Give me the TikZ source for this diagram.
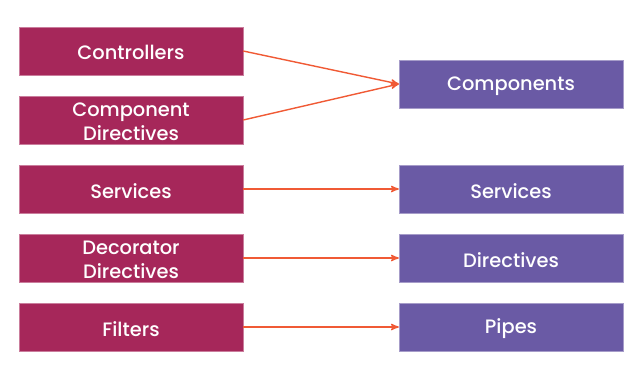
\documentclass[tikz,border=0pt]{standalone}
\usepackage{fontspec}
\setmainfont{Poppins}[BoldFont={Poppins Medium}]
\usetikzlibrary{arrows}

\definecolor{oldbox}{HTML}{A6275A}
\definecolor{newbox}{HTML}{6A5AA5}
\definecolor{maparrow}{HTML}{F05A35}

\begin{document}
\begin{tikzpicture}[>=stealth',
    oldstyle/.style = {rectangle,
          fill = oldbox,
          draw = oldbox!60!white,
          line width = 0.3pt,
          minimum width = 5.6cm,
          minimum height = 1.2cm},
    newstyle/.style = {oldstyle,
          fill = newbox,
          draw = newbox!60!white},
    boxtext/.style = {text = white,
          align = center,
          yshift = -1.3pt,
          font = \fontsize{13.8}{16.5}\selectfont\bfseries},
    mapto/.style = {->,
          draw = maparrow,
          line width = 1pt}
    ]

    \useasboundingbox (0,0) rectangle (16.05,-9.375);

    % angularjs side
    \node[oldstyle] (ctrl) at (3.275,-1.275) {};
    \node[boxtext] at (ctrl.center) {Controllers};

    \node[oldstyle] (cdir) at (3.275,-3.0) {};
    \node[boxtext] at (cdir.center) {Component\\Directives};

    \node[oldstyle] (srv) at (3.275,-4.725) {};
    \node[boxtext] at (srv.center) {Services};

    \node[oldstyle] (ddir) at (3.275,-6.45) {};
    \node[boxtext] at (ddir.center) {Decorator\\Directives};

    \node[oldstyle] (filt) at (3.275,-8.175) {};
    \node[boxtext] at (filt.center) {Filters};

    % angular side
    \node[newstyle] (comp) at (12.775,-2.1) {};
    \node[boxtext] at (comp.center) {Components};

    \node[newstyle] (srv2) at (12.775,-4.725) {};
    \node[boxtext] at (srv2.center) {Services};

    \node[newstyle] (dir) at (12.775,-6.45) {};
    \node[boxtext] at (dir.center) {Directives};

    \node[newstyle] (pipe) at (12.775,-8.175) {};
    \node[boxtext] at (pipe.center) {Pipes};

    \path
    (ctrl.east) edge [mapto] (comp.west)
    (cdir.east) edge [mapto] (comp.west)
    (srv.east) edge [mapto] (srv2.west)
    (ddir.east) edge [mapto] (dir.west)
    (filt.east) edge [mapto] (pipe.west) ;

\end{tikzpicture}
\end{document}
